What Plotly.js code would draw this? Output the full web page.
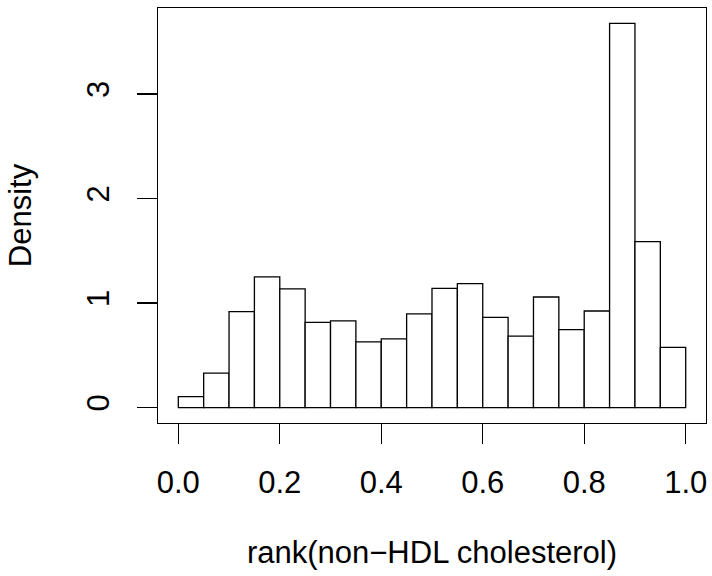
<!DOCTYPE html>
<html>
<head>
<meta charset="utf-8">
<script src="https://cdn.plot.ly/plotly-3.0.1.min.js"></script>
<style>html,body{margin:0;padding:0;background:#fff;}#chart{width:712px;height:576px;}</style>
</head>
<body>
<div id="chart"></div>
<script>
// Histogram of rank(non-HDL cholesterol), 20 bins of width 0.05
var binStarts = [0.00,0.05,0.10,0.15,0.20,0.25,0.30,0.35,0.40,0.45,0.50,0.55,0.60,0.65,0.70,0.75,0.80,0.85,0.90,0.95];
var binWidth = 0.05;
var density = [0.105,0.33,0.918,1.250,1.135,0.816,0.829,0.628,0.657,0.896,1.141,1.186,0.864,0.683,1.058,0.746,0.924,3.675,1.587,0.577];
var xTicks = [0,0.2,0.4,0.6,0.8,1.0];
var xTickText = ["0.0","0.2","0.4","0.6","0.8","1.0"];
var yTicks = [0,1,2,3];
var yTickText = ["0","1","2","3"];

var mids = binStarts.map(function(s){return s + binWidth/2;});
var ymax = Math.max.apply(null, density);

var trace = {
  type: 'bar',
  x: mids,
  y: density,
  width: binWidth,
  marker: {color: '#ffffff', line: {color: '#000000', width: 1.3}},
  hoverinfo: 'x+y'
};

var font = {family: '"Liberation Sans", Arial, Helvetica, sans-serif', size: 31, color: '#000'};

var layout = {
  width: 712, height: 576,
  margin: {l: 158, r: 6, t: 8, b: 153, pad: 0},
  paper_bgcolor: '#fff', plot_bgcolor: '#fff',
  showlegend: false,
  bargap: 0,
  font: font,
  xaxis: {
    range: [-0.04, 1.04],
    tickvals: xTicks, ticktext: xTickText,
    ticks: 'outside', ticklen: 20, tickwidth: 1.3, tickcolor: '#000',
    showline: true, linecolor: '#000', linewidth: 1.3, mirror: true,
    showgrid: false, zeroline: false,
    tickfont: font,
    ticklabelstandoff: 11,
    title: {text: 'rank(non\u2212HDL cholesterol)', font: font, standoff: 42}
  },
  yaxis: {
    range: [-0.04*ymax, 1.04*ymax],
    tickvals: yTicks, ticktext: yTickText,
    ticks: 'outside', ticklen: 20, tickwidth: 1.3, tickcolor: '#000',
    tickangle: -90,
    ticklabelstandoff: 15,
    showline: true, linecolor: '#000', linewidth: 1.3, mirror: true,
    showgrid: false, zeroline: false,
    tickfont: font,
    title: {text: 'Density', font: font, standoff: 40}
  }
};

Plotly.newPlot('chart', [trace], layout, {staticPlot: true});
</script>
</body>
</html>
